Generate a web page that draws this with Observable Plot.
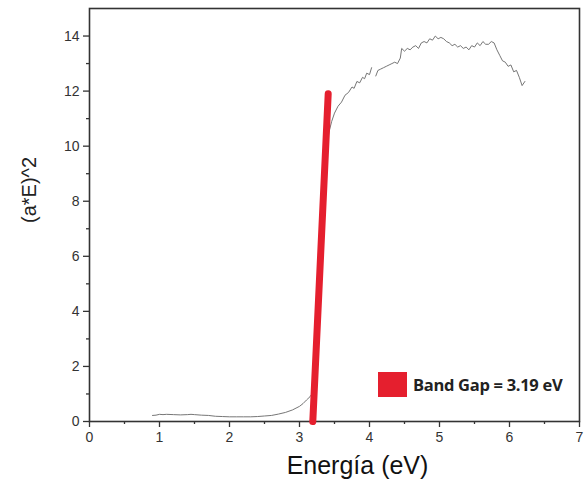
<!DOCTYPE html>
<html><head><meta charset="utf-8">
<script src="https://cdn.jsdelivr.net/npm/d3@7"></script>
<script src="https://cdn.jsdelivr.net/npm/@observablehq/plot@0.6"></script>
<style>
html,body{margin:0;padding:0;background:#fff;}
#wrap{position:relative;width:585px;height:495px;}
#legend{position:absolute;left:378px;top:372px;display:flex;align-items:center;font-family:"Open Sans",sans-serif;font-weight:700;font-size:16.5px;color:#222;letter-spacing:-0.3px;}
#legend .sw{width:29px;height:25px;background:#e51f2e;margin-right:6px;}
svg text{font-family:Arial,"Liberation Sans",sans-serif;}
</style></head>
<body><div id="wrap"><div id="legend"><div class="sw"></div><span>Band Gap = 3.19 eV</span></div></div>
<script>
const energy = [0.90,0.95,1.00,1.05,1.10,1.20,1.30,1.40,1.45,1.50,1.60,1.70,1.80,1.90,2.00,2.10,2.20,2.30,2.40,2.50,2.60,2.70,2.80,2.90,3.00,3.05,3.10,3.15,3.19,3.22,3.26,3.30,3.34,3.38,3.42,3.46,3.50,3.55,3.60,3.65,3.70,3.75,3.78,3.82,3.86,3.90,3.93,3.96,4.00,4.03,4.06,4.09,4.12,4.16,4.20,4.24,4.28,4.32,4.36,4.40,4.44,4.46,4.50,4.54,4.58,4.62,4.66,4.70,4.74,4.78,4.82,4.86,4.90,4.94,4.98,5.02,5.06,5.10,5.14,5.18,5.22,5.26,5.30,5.34,5.38,5.42,5.46,5.50,5.54,5.58,5.62,5.66,5.70,5.74,5.78,5.82,5.86,5.90,5.94,5.98,6.02,6.06,6.10,6.14,6.18,6.22];
const absorb = [0.22,0.23,0.26,0.25,0.26,0.25,0.24,0.25,0.26,0.25,0.23,0.22,0.19,0.18,0.17,0.17,0.17,0.17,0.18,0.20,0.22,0.27,0.33,0.42,0.55,0.65,0.78,0.90,1.05,1.6,3.5,6.0,8.3,9.8,10.5,10.9,11.2,11.45,11.6,11.85,11.95,12.15,12.1,12.35,12.3,12.5,12.45,12.65,12.6,12.85,null,12.55,12.75,12.8,12.85,12.9,12.95,13.0,13.05,13.0,13.2,13.55,13.45,13.55,13.5,13.6,13.65,13.55,13.75,13.8,13.75,13.9,13.85,14.0,13.9,13.95,13.9,13.8,13.75,13.65,13.7,13.6,13.65,13.55,13.6,13.5,13.65,13.6,13.75,13.65,13.8,13.7,13.7,13.8,13.75,13.5,13.3,13.1,13.05,12.9,12.95,12.7,12.75,12.5,12.2,12.35];
const fitX = [3.19, 3.41];
const fitY = [0, 11.9];
const xMajor = [0,1,2,3,4,5,6,7];
const xMinor = [0.5,1.5,2.5,3.5,4.5,5.5,6.5];
const yMajor = [0,2,4,6,8,10,12,14];
const yMinor = [1,3,5,7,9,11,13];
const xLabel = "Energía (eV)";
const yLabel = "(a*E)^2";

const curve = energy.map((e,i)=>({e, v: absorb[i]}));
const fit = fitX.map((x,i)=>({x, y: fitY[i]}));

const chart = Plot.plot({
  width: 585, height: 495,
  marginLeft: 89, marginRight: 6, marginTop: 8, marginBottom: 74,
  x: {domain: [0,7]},
  y: {domain: [0,15]},
  style: {fontSize: "14px", color: "#333"},
  marks: [
    Plot.frame({stroke: "#333", strokeWidth: 1.6}),
    Plot.axisX({ticks: xMinor, tickSize: 3, tickFormat: () => "", label: null, strokeWidth: 1.3}),
    Plot.axisX({ticks: xMajor, tickSize: 6, tickPadding: 5, tickFormat: d => String(d), label: null, strokeWidth: 1.3, fill: "#333"}),
    Plot.axisY({ticks: yMinor, tickSize: 3, tickFormat: () => "", label: null, strokeWidth: 1.3}),
    Plot.axisY({ticks: yMajor, tickSize: 6, tickPadding: 4, tickFormat: d => String(d), label: null, strokeWidth: 1.3, fill: "#333"}),
    Plot.line(curve, {x: "e", y: "v", stroke: "#666", strokeWidth: 0.9, defined: d => d.v != null}),
    Plot.line(fit, {x: "x", y: "y", stroke: "#e51f2e", strokeWidth: 7, strokeLinecap: "round"}),
    Plot.text([xLabel], {frameAnchor: "bottom", dy: 52, dx: 23, fontSize: 25, fill: "#111", fontFamily: "Open Sans", text: d => d}),
    Plot.text([yLabel], {frameAnchor: "left", dx: -60, dy: 8, rotate: -90, fontSize: 20, fill: "#222", text: d => d})
  ]
});
document.getElementById("wrap").prepend(chart);
</script>
</body></html>
